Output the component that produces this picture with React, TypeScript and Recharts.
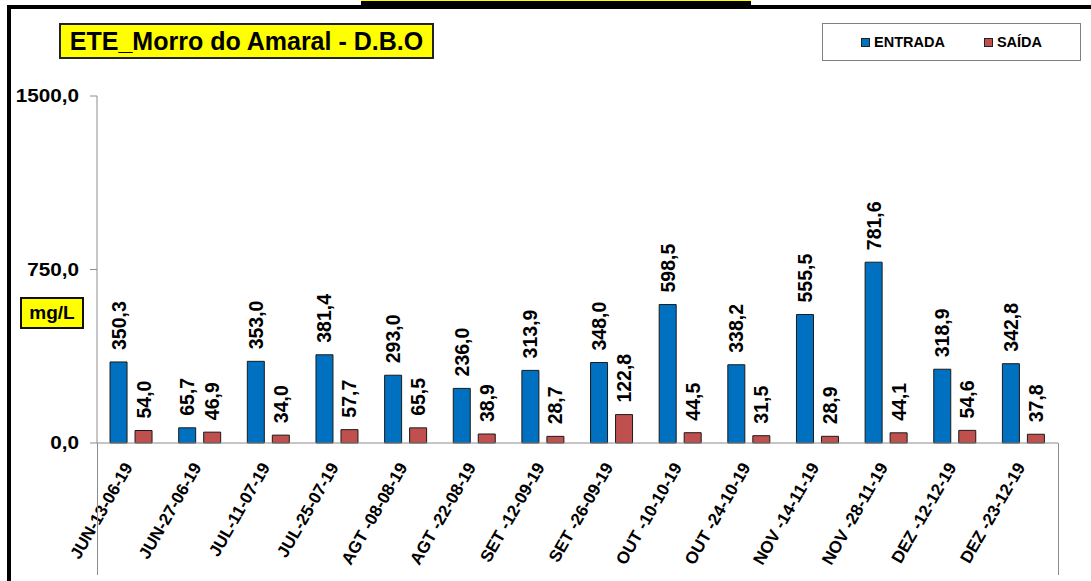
import React from "react";
import { Bar, BarChart, LabelList, XAxis, YAxis } from "recharts";

const CATEGORIES = [
  "JUN-13-06-19", "JUN-27-06-19", "JUL-11-07-19", "JUL-25-07-19",
  "AGT -08-08-19", "AGT -22-08-19", "SET -12-09-19", "SET -26-09-19",
  "OUT -10-10-19", "OUT -24-10-19", "NOV -14-11-19", "NOV -28-11-19",
  "DEZ -12-12-19", "DEZ -23-12-19",
];
const ENTRADA = [350.3, 65.7, 353.0, 381.4, 293.0, 236.0, 313.9, 348.0, 598.5, 338.2, 555.5, 781.6, 318.9, 342.8];
const SAIDA = [54.0, 46.9, 34.0, 57.7, 65.5, 38.9, 28.7, 122.8, 44.5, 31.5, 28.9, 44.1, 54.6, 37.8];
const Y_TICKS = [0, 750, 1500];

const FONT = '"Liberation Sans", Arial, sans-serif';
const BLUE = "#0070C0";
const RED = "#C0504D";
const AXIS = "#8c8c8c";

const fmt = (v: number) => v.toFixed(1).replace(".", ",");

const data = CATEGORIES.map((c, i) => ({ cat: c, entrada: ENTRADA[i], saida: SAIDA[i] }));

function BarValue(props: any) {
  const { x, y, width, value } = props;
  const cx = x + width / 2;
  const cy = y - 12;
  return (
    <text x={cx} y={cy} transform={`rotate(-90, ${cx}, ${cy})`} textAnchor="start" dominantBaseline="central"
      fontFamily={FONT} fontWeight="bold" fontSize={19.5} fill="#000">
      {fmt(Number(value))}
    </text>
  );
}

function XTick(props: any) {
  const { x, y, payload } = props;
  const tx = x + 2;
  const ty = y + 16;
  return (
    <text x={tx} y={ty} transform={`rotate(-60, ${tx}, ${ty})`} textAnchor="end"
      fontFamily={FONT} fontWeight="bold" fontSize={17} fill="#000">
      {payload.value}
    </text>
  );
}

function YTick(props: any) {
  const { x, y, payload } = props;
  return (
    <text x={x} y={y} textAnchor="end" dominantBaseline="central" transform={`translate(${x},0) scale(1.15,1) translate(${-x},0)`}
      fontFamily={FONT} fontWeight="bold" fontSize={18} fill="#000">
      {fmt(payload.value)}
    </text>
  );
}

function LegendBox() {
  const item = (color: string, label: string, gap: number) => (
    <span style={{ display: "inline-flex", alignItems: "center", marginRight: gap }}>
      <span style={{ width: 7, height: 7, background: color, border: "1px solid #222", marginRight: 4 }} />
      <span>{label}</span>
    </span>
  );
  return (
    <div style={{
      position: "absolute", left: 822, top: 23, width: 259, height: 38, border: "1.5px solid #808080",
      display: "flex", alignItems: "center", paddingLeft: 38, boxSizing: "border-box",
      fontFamily: FONT, fontWeight: "bold", fontSize: 14.5, color: "#000",
    }}>
      {item(BLUE, "ENTRADA", 39)}
      {item(RED, "SAÍDA", 0)}
    </div>
  );
}

export default function App() {
  return (
    <div style={{ position: "absolute", left: 0, top: 0, width: 1091, height: 581, background: "#fff", overflow: "hidden" }}>
      <BarChart width={1091} height={581} data={data} margin={{ top: 96, right: 33, bottom: 0, left: 0 }}
        barCategoryGap="19%" barGap={8}>
        <XAxis dataKey="cat" height={138} interval={0} tickLine={false} stroke={AXIS} tick={<XTick />} />
        <YAxis width={97} domain={[0, 1500]} ticks={Y_TICKS} tickSize={7} tickMargin={11} stroke={AXIS} tick={<YTick />} />
        <Bar dataKey="entrada" name="ENTRADA" fill={BLUE} stroke="#1a1a1a" strokeWidth={1} isAnimationActive={false}>
          <LabelList dataKey="entrada" content={<BarValue />} />
        </Bar>
        <Bar dataKey="saida" name="SAÍDA" fill={RED} stroke="#1a1a1a" strokeWidth={1} isAnimationActive={false}>
          <LabelList dataKey="saida" content={<BarValue />} />
        </Bar>
      </BarChart>
      <LegendBox />
      {/* plot frame extensions below the category axis */}
      <div style={{ position: "absolute", left: 97, top: 443, width: 1, height: 132, background: AXIS }} />
      <div style={{ position: "absolute", left: 1058, top: 443, width: 1, height: 132, background: AXIS }} />
      {/* outer frame */}
      <div style={{ position: "absolute", left: 7, top: 5, width: 1084, height: 4, background: "#000" }} />
      <div style={{ position: "absolute", left: 7, top: 5, width: 4, height: 576, background: "#000" }} />
      <div style={{ position: "absolute", left: 361, top: 0, width: 390, height: 9, background: "#000", borderTop: "1px solid #ffff00", boxSizing: "border-box" }} />
      {/* title */}
      <div style={{
        position: "absolute", left: 59, top: 23, width: 375, height: 36, background: "#ffff00", border: "2px solid #222",
        boxSizing: "border-box", display: "flex", alignItems: "center", justifyContent: "center",
        fontFamily: FONT, fontWeight: "bold", fontSize: 25, color: "#000",
      }}>
        ETE_Morro do Amaral - D.B.O
      </div>
      <div style={{
        position: "absolute", left: 20, top: 297, width: 64, height: 32, background: "#ffff00", border: "2px solid #111",
        boxSizing: "border-box", display: "flex", alignItems: "center", justifyContent: "center",
        fontFamily: FONT, fontWeight: "bold", fontSize: 19, color: "#000",
      }}>
        mg/L
      </div>
    </div>
  );
}
